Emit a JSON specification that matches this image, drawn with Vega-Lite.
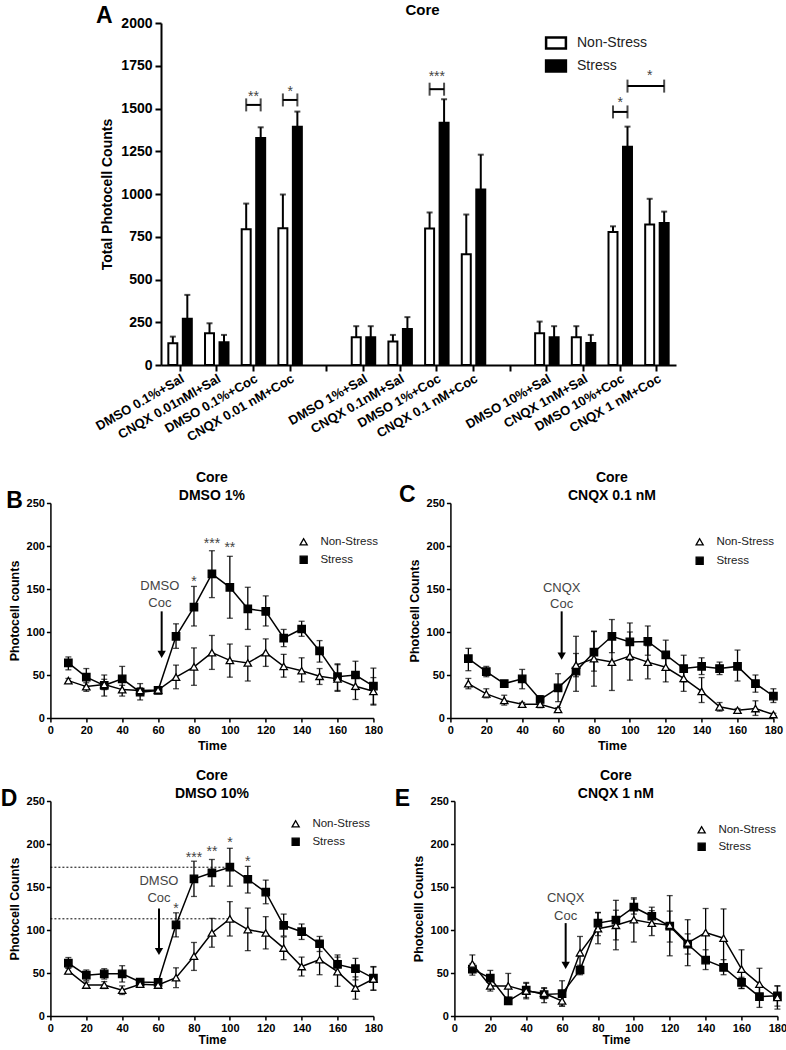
{
"$schema": "https://vega.github.io/schema/vega-lite/v6.json",
"padding": {"left": 0, "top": 3, "right": 0, "bottom": 0},
"config": {
  "font": "Liberation Sans",
  "view": {"stroke": null},
  "axis": {"domainColor": "black", "tickColor": "black", "labelColor": "black", "titleColor": "black", "labelFontWeight": "bold", "titleFontWeight": "bold", "grid": false, "domainWidth": 1.5, "tickWidth": 1.5, "labelFont": "Liberation Sans", "titleFont": "Liberation Sans", "format": "d", "labelOverlap": false},
  "title": {"font": "Liberation Sans", "fontWeight": "bold", "color": "black", "anchor": "middle", "frame": "group"},
  "legend": {"labelFont": "Liberation Sans", "labelColor": "#222222"},
  "text": {"font": "Liberation Sans"}
},
"datasets": {
  "bars": [
    {"group": "DMSO 0.1%+Sal", "series": "Non-Stress", "value": 127, "hi": 166},
    {"group": "DMSO 0.1%+Sal", "series": "Stress", "value": 270, "hi": 410},
    {"group": "CNQX 0.01nMl+Sal", "series": "Non-Stress", "value": 186, "hi": 244},
    {"group": "CNQX 0.01nMl+Sal", "series": "Stress", "value": 133, "hi": 176},
    {"group": "DMSO 0.1%+Coc", "series": "Non-Stress", "value": 794, "hi": 944},
    {"group": "DMSO 0.1%+Coc", "series": "Stress", "value": 1327, "hi": 1390},
    {"group": "CNQX 0.01 nM+Coc", "series": "Non-Stress", "value": 800, "hi": 997},
    {"group": "CNQX 0.01 nM+Coc", "series": "Stress", "value": 1394, "hi": 1482},
    {"group": "DMSO 1%+Sal", "series": "Non-Stress", "value": 162, "hi": 227},
    {"group": "DMSO 1%+Sal", "series": "Stress", "value": 162, "hi": 227},
    {"group": "CNQX 0.1nM+Sal", "series": "Non-Stress", "value": 137, "hi": 176},
    {"group": "CNQX 0.1nM+Sal", "series": "Stress", "value": 211, "hi": 280},
    {"group": "DMSO 1%+Coc", "series": "Non-Stress", "value": 798, "hi": 892},
    {"group": "DMSO 1%+Coc", "series": "Stress", "value": 1417, "hi": 1554},
    {"group": "CNQX 0.1 nM+Coc", "series": "Non-Stress", "value": 647, "hi": 880},
    {"group": "CNQX 0.1 nM+Coc", "series": "Stress", "value": 1026, "hi": 1230},
    {"group": "DMSO 10%+Sal", "series": "Non-Stress", "value": 186, "hi": 254},
    {"group": "DMSO 10%+Sal", "series": "Stress", "value": 162, "hi": 227},
    {"group": "CNQX 1nM+Sal", "series": "Non-Stress", "value": 162, "hi": 227},
    {"group": "CNQX 1nM+Sal", "series": "Stress", "value": 129, "hi": 176},
    {"group": "DMSO 10%+Coc", "series": "Non-Stress", "value": 778, "hi": 811},
    {"group": "DMSO 10%+Coc", "series": "Stress", "value": 1277, "hi": 1394},
    {"group": "CNQX 1 nM+Coc", "series": "Non-Stress", "value": 821, "hi": 972},
    {"group": "CNQX 1 nM+Coc", "series": "Stress", "value": 831, "hi": 897}
  ],
  "brackets": [
    {"bid": 1, "group": "DMSO 0.1%+Coc", "series": "Non-Stress", "level": 1521},
    {"bid": 1, "group": "DMSO 0.1%+Coc", "series": "Stress", "level": 1521},
    {"bid": 2, "group": "CNQX 0.01 nM+Coc", "series": "Non-Stress", "level": 1550},
    {"bid": 2, "group": "CNQX 0.01 nM+Coc", "series": "Stress", "level": 1550},
    {"bid": 3, "group": "DMSO 1%+Coc", "series": "Non-Stress", "level": 1613},
    {"bid": 3, "group": "DMSO 1%+Coc", "series": "Stress", "level": 1613},
    {"bid": 4, "group": "DMSO 10%+Coc", "series": "Non-Stress", "level": 1480},
    {"bid": 4, "group": "DMSO 10%+Coc", "series": "Stress", "level": 1480},
    {"bid": 5, "group": "DMSO 10%+Coc", "series": "Stress", "level": 1631},
    {"bid": 5, "group": "CNQX 1 nM+Coc", "series": "Stress", "level": 1631}
  ],
  "stars": [
    {"group": "DMSO 0.1%+Coc", "level": 1546, "label": "**"},
    {"group": "CNQX 0.01 nM+Coc", "level": 1575, "label": "*"},
    {"group": "DMSO 1%+Coc", "level": 1658, "label": "***"},
    {"group": "DMSO 10%+Coc", "level": 1506, "label": "*"},
    {"group": "CNQX 1 nM+Coc", "series": "Non-Stress", "level": 1668, "label": "*"}
  ],
  "letterA": [{"label": "A", "x": -0.11, "y": 2000}],
  "notes": [
    {"panel": "B", "kind": "drug", "time": 61, "y": 149, "label": "DMSO"},
    {"panel": "B", "kind": "drug", "time": 61, "y": 129, "label": "Coc"},
    {"panel": "B", "kind": "star", "time": 80, "y": 154, "label": "*"},
    {"panel": "B", "kind": "star", "time": 90, "y": 198, "label": "***"},
    {"panel": "B", "kind": "star", "time": 100, "y": 193, "label": "**"},
    {"panel": "B", "kind": "letter", "time": -20, "y": 244, "label": "B"},
    {"panel": "C", "kind": "drug", "time": 62, "y": 147, "label": "CNQX"},
    {"panel": "C", "kind": "drug", "time": 62, "y": 128, "label": "Coc"},
    {"panel": "C", "kind": "letter", "time": -24, "y": 251, "label": "C"},
    {"panel": "D", "kind": "drug", "time": 60.5, "y": 152, "label": "DMSO"},
    {"panel": "D", "kind": "drug", "time": 60.5, "y": 133, "label": "Coc"},
    {"panel": "D", "kind": "star", "time": 70, "y": 120, "label": "*"},
    {"panel": "D", "kind": "star", "time": 80, "y": 179, "label": "***"},
    {"panel": "D", "kind": "star", "time": 90, "y": 186, "label": "**"},
    {"panel": "D", "kind": "star", "time": 100, "y": 196, "label": "*"},
    {"panel": "D", "kind": "star", "time": 110, "y": 175, "label": "*"},
    {"panel": "D", "kind": "letter", "time": -23, "y": 244, "label": "D"},
    {"panel": "E", "kind": "drug", "time": 62, "y": 132, "label": "CNQX"},
    {"panel": "E", "kind": "drug", "time": 62, "y": 112, "label": "Coc"},
    {"panel": "E", "kind": "letter", "time": -29, "y": 244, "label": "E"}
  ],
  "arrows": [
    {"panel": "B", "time": 62, "top": 124, "tip": 74},
    {"panel": "C", "time": 62, "top": 124, "tip": 72},
    {"panel": "D", "time": 60.5, "top": 125, "tip": 75},
    {"panel": "E", "time": 62, "top": 108, "tip": 59}
  ],
  "dotted": [
    {"panel": "D", "t0": 0, "t1": 100, "y": 173},
    {"panel": "D", "t0": 0, "t1": 100, "y": 113}
  ],
  "ts": [
    {"panel":"B","series":"Stress","time":10,"value":64,"lo":56,"hi":71},
    {"panel":"B","series":"Stress","time":20,"value":47.5,"lo":37,"hi":57.5},
    {"panel":"B","series":"Stress","time":30,"value":38,"lo":25.5,"hi":50},
    {"panel":"B","series":"Stress","time":40,"value":45.5,"lo":32,"hi":60},
    {"panel":"B","series":"Stress","time":50,"value":30,"lo":21,"hi":40},
    {"panel":"B","series":"Stress","time":60,"value":32,"lo":29.5,"hi":34.5},
    {"panel":"B","series":"Stress","time":70,"value":95,"lo":81,"hi":109.5},
    {"panel":"B","series":"Stress","time":80,"value":129,"lo":107,"hi":153},
    {"panel":"B","series":"Stress","time":90,"value":167.5,"lo":140,"hi":194.5},
    {"panel":"B","series":"Stress","time":100,"value":152,"lo":116,"hi":188},
    {"panel":"B","series":"Stress","time":110,"value":127,"lo":103,"hi":152},
    {"panel":"B","series":"Stress","time":120,"value":124,"lo":107,"hi":142},
    {"panel":"B","series":"Stress","time":130,"value":93,"lo":83,"hi":103},
    {"panel":"B","series":"Stress","time":140,"value":103.5,"lo":95,"hi":112.5},
    {"panel":"B","series":"Stress","time":150,"value":78,"lo":65,"hi":90},
    {"panel":"B","series":"Stress","time":160,"value":48,"lo":32,"hi":63},
    {"panel":"B","series":"Stress","time":170,"value":50,"lo":33,"hi":66},
    {"panel":"B","series":"Stress","time":180,"value":37,"lo":15,"hi":58},
    {"panel":"B","series":"Non-Stress","time":10,"value":43.5,"lo":41,"hi":46},
    {"panel":"B","series":"Non-Stress","time":20,"value":36.5,"lo":31,"hi":41},
    {"panel":"B","series":"Non-Stress","time":30,"value":39,"lo":33,"hi":45},
    {"panel":"B","series":"Non-Stress","time":40,"value":33,"lo":25.5,"hi":38},
    {"panel":"B","series":"Non-Stress","time":50,"value":32,"lo":29,"hi":35},
    {"panel":"B","series":"Non-Stress","time":60,"value":32.5,"lo":30,"hi":35},
    {"panel":"B","series":"Non-Stress","time":70,"value":47.5,"lo":34,"hi":61.5},
    {"panel":"B","series":"Non-Stress","time":80,"value":59.5,"lo":38,"hi":81.5},
    {"panel":"B","series":"Non-Stress","time":90,"value":76,"lo":56.5,"hi":96},
    {"panel":"B","series":"Non-Stress","time":100,"value":67,"lo":47.5,"hi":86},
    {"panel":"B","series":"Non-Stress","time":110,"value":64,"lo":43,"hi":83.5},
    {"panel":"B","series":"Non-Stress","time":120,"value":76,"lo":60,"hi":92},
    {"panel":"B","series":"Non-Stress","time":130,"value":60,"lo":47.5,"hi":74},
    {"panel":"B","series":"Non-Stress","time":140,"value":55,"lo":42,"hi":70},
    {"panel":"B","series":"Non-Stress","time":150,"value":48.5,"lo":39,"hi":57.5},
    {"panel":"B","series":"Non-Stress","time":160,"value":45.5,"lo":31,"hi":62},
    {"panel":"B","series":"Non-Stress","time":170,"value":37,"lo":21.5,"hi":52},
    {"panel":"B","series":"Non-Stress","time":180,"value":31,"lo":16,"hi":47},
    {"panel":"C","series":"Stress","time":10,"value":69,"lo":55,"hi":81},
    {"panel":"C","series":"Stress","time":20,"value":54,"lo":48,"hi":60},
    {"panel":"C","series":"Stress","time":30,"value":40,"lo":37,"hi":43},
    {"panel":"C","series":"Stress","time":40,"value":45.5,"lo":34,"hi":56.5},
    {"panel":"C","series":"Stress","time":50,"value":21.5,"lo":16,"hi":26},
    {"panel":"C","series":"Stress","time":60,"value":35,"lo":19,"hi":51.5},
    {"panel":"C","series":"Stress","time":70,"value":54.5,"lo":31,"hi":95},
    {"panel":"C","series":"Stress","time":80,"value":76.5,"lo":54.5,"hi":100.5},
    {"panel":"C","series":"Stress","time":90,"value":95,"lo":76,"hi":114.5},
    {"panel":"C","series":"Stress","time":100,"value":88.5,"lo":67,"hi":110.5},
    {"panel":"C","series":"Stress","time":110,"value":89,"lo":73,"hi":107},
    {"panel":"C","series":"Stress","time":120,"value":73.5,"lo":57,"hi":90.5},
    {"panel":"C","series":"Stress","time":130,"value":57.5,"lo":42,"hi":73},
    {"panel":"C","series":"Stress","time":140,"value":60,"lo":50.5,"hi":70},
    {"panel":"C","series":"Stress","time":150,"value":57.5,"lo":50.5,"hi":65},
    {"panel":"C","series":"Stress","time":160,"value":60,"lo":43,"hi":79},
    {"panel":"C","series":"Stress","time":170,"value":40,"lo":30,"hi":50},
    {"panel":"C","series":"Stress","time":180,"value":25.5,"lo":18,"hi":34},
    {"panel":"C","series":"Non-Stress","time":10,"value":40,"lo":34,"hi":46},
    {"panel":"C","series":"Non-Stress","time":20,"value":28,"lo":23.5,"hi":34},
    {"panel":"C","series":"Non-Stress","time":30,"value":20.5,"lo":15,"hi":26.5},
    {"panel":"C","series":"Non-Stress","time":40,"value":16,"lo":14,"hi":18},
    {"panel":"C","series":"Non-Stress","time":50,"value":16,"lo":12,"hi":19},
    {"panel":"C","series":"Non-Stress","time":60,"value":10,"lo":8,"hi":12},
    {"panel":"C","series":"Non-Stress","time":70,"value":61.5,"lo":48,"hi":75},
    {"panel":"C","series":"Non-Stress","time":80,"value":69,"lo":37,"hi":101},
    {"panel":"C","series":"Non-Stress","time":90,"value":65,"lo":32,"hi":97},
    {"panel":"C","series":"Non-Stress","time":100,"value":72,"lo":44,"hi":100},
    {"panel":"C","series":"Non-Stress","time":110,"value":65,"lo":45.5,"hi":84},
    {"panel":"C","series":"Non-Stress","time":120,"value":59,"lo":42,"hi":76},
    {"panel":"C","series":"Non-Stress","time":130,"value":46,"lo":31,"hi":61},
    {"panel":"C","series":"Non-Stress","time":140,"value":31,"lo":18,"hi":47},
    {"panel":"C","series":"Non-Stress","time":150,"value":13,"lo":8,"hi":18},
    {"panel":"C","series":"Non-Stress","time":160,"value":9,"lo":7,"hi":11},
    {"panel":"C","series":"Non-Stress","time":170,"value":11,"lo":3,"hi":20},
    {"panel":"C","series":"Non-Stress","time":180,"value":4,"lo":2.5,"hi":5.5},
    {"panel":"D","series":"Stress","time":10,"value":61.5,"lo":55.5,"hi":68},
    {"panel":"D","series":"Stress","time":20,"value":47.5,"lo":41.5,"hi":53.5},
    {"panel":"D","series":"Stress","time":30,"value":49,"lo":43,"hi":55},
    {"panel":"D","series":"Stress","time":40,"value":49,"lo":39.5,"hi":58.5},
    {"panel":"D","series":"Stress","time":50,"value":39.5,"lo":36.5,"hi":42.5},
    {"panel":"D","series":"Stress","time":60,"value":39,"lo":36,"hi":42},
    {"panel":"D","series":"Stress","time":70,"value":106,"lo":92,"hi":120},
    {"panel":"D","series":"Stress","time":80,"value":159.5,"lo":139,"hi":180},
    {"panel":"D","series":"Stress","time":90,"value":166.5,"lo":151,"hi":182},
    {"panel":"D","series":"Stress","time":100,"value":173,"lo":151,"hi":195},
    {"panel":"D","series":"Stress","time":110,"value":159,"lo":143,"hi":174},
    {"panel":"D","series":"Stress","time":120,"value":144,"lo":130.5,"hi":158},
    {"panel":"D","series":"Stress","time":130,"value":105.5,"lo":93,"hi":118.5},
    {"panel":"D","series":"Stress","time":140,"value":98,"lo":89,"hi":107},
    {"panel":"D","series":"Stress","time":150,"value":84,"lo":75,"hi":92.5},
    {"panel":"D","series":"Stress","time":160,"value":60,"lo":49,"hi":71},
    {"panel":"D","series":"Stress","time":170,"value":55,"lo":42,"hi":67},
    {"panel":"D","series":"Stress","time":180,"value":44,"lo":30,"hi":57.5},
    {"panel":"D","series":"Non-Stress","time":10,"value":52.5,"lo":49,"hi":56},
    {"panel":"D","series":"Non-Stress","time":20,"value":36,"lo":32.5,"hi":39.5},
    {"panel":"D","series":"Non-Stress","time":30,"value":36,"lo":32,"hi":40},
    {"panel":"D","series":"Non-Stress","time":40,"value":30,"lo":25,"hi":35},
    {"panel":"D","series":"Non-Stress","time":50,"value":37,"lo":34.5,"hi":39.5},
    {"panel":"D","series":"Non-Stress","time":60,"value":36,"lo":33.5,"hi":38.5},
    {"panel":"D","series":"Non-Stress","time":70,"value":44.5,"lo":33,"hi":56},
    {"panel":"D","series":"Non-Stress","time":80,"value":69.5,"lo":53,"hi":85.5},
    {"panel":"D","series":"Non-Stress","time":90,"value":96.5,"lo":80,"hi":113.5},
    {"panel":"D","series":"Non-Stress","time":100,"value":113,"lo":93,"hi":133},
    {"panel":"D","series":"Non-Stress","time":110,"value":100.5,"lo":76,"hi":125.5},
    {"panel":"D","series":"Non-Stress","time":120,"value":96.5,"lo":78,"hi":115.5},
    {"panel":"D","series":"Non-Stress","time":130,"value":79,"lo":65.5,"hi":92},
    {"panel":"D","series":"Non-Stress","time":140,"value":57.5,"lo":46.5,"hi":68.5},
    {"panel":"D","series":"Non-Stress","time":150,"value":65.5,"lo":48,"hi":83.5},
    {"panel":"D","series":"Non-Stress","time":160,"value":51.5,"lo":34.5,"hi":68.5},
    {"panel":"D","series":"Non-Stress","time":170,"value":32.5,"lo":19.5,"hi":45.5},
    {"panel":"D","series":"Non-Stress","time":180,"value":43,"lo":30,"hi":57},
    {"panel":"E","series":"Stress","time":10,"value":54.5,"lo":47.5,"hi":61},
    {"panel":"E","series":"Stress","time":20,"value":44,"lo":35,"hi":53},
    {"panel":"E","series":"Stress","time":30,"value":17.5,"lo":13.5,"hi":21.5},
    {"panel":"E","series":"Stress","time":40,"value":30,"lo":21.5,"hi":38},
    {"panel":"E","series":"Stress","time":50,"value":25,"lo":15.5,"hi":33},
    {"panel":"E","series":"Stress","time":60,"value":26,"lo":11.5,"hi":41},
    {"panel":"E","series":"Stress","time":70,"value":53.5,"lo":48,"hi":59},
    {"panel":"E","series":"Stress","time":80,"value":108,"lo":93.5,"hi":120.5},
    {"panel":"E","series":"Stress","time":90,"value":111.5,"lo":88.5,"hi":134.5},
    {"panel":"E","series":"Stress","time":100,"value":126.5,"lo":118.5,"hi":136},
    {"panel":"E","series":"Stress","time":110,"value":116,"lo":106,"hi":126.5},
    {"panel":"E","series":"Stress","time":120,"value":104.5,"lo":86,"hi":122},
    {"panel":"E","series":"Stress","time":130,"value":83.5,"lo":72,"hi":95.5},
    {"panel":"E","series":"Stress","time":140,"value":65,"lo":54,"hi":77},
    {"panel":"E","series":"Stress","time":150,"value":56.5,"lo":48,"hi":65.5},
    {"panel":"E","series":"Stress","time":160,"value":39,"lo":32,"hi":45},
    {"panel":"E","series":"Stress","time":170,"value":22.5,"lo":10,"hi":34},
    {"panel":"E","series":"Stress","time":180,"value":23.5,"lo":11.5,"hi":35},
    {"panel":"E","series":"Non-Stress","time":10,"value":60.5,"lo":50.5,"hi":71},
    {"panel":"E","series":"Non-Stress","time":20,"value":35,"lo":29,"hi":41},
    {"panel":"E","series":"Non-Stress","time":30,"value":35,"lo":21.5,"hi":49.5},
    {"panel":"E","series":"Non-Stress","time":40,"value":29,"lo":20,"hi":39},
    {"panel":"E","series":"Non-Stress","time":50,"value":26.5,"lo":20,"hi":32},
    {"panel":"E","series":"Non-Stress","time":60,"value":17.5,"lo":11.5,"hi":23},
    {"panel":"E","series":"Non-Stress","time":70,"value":73.5,"lo":54.5,"hi":92.5},
    {"panel":"E","series":"Non-Stress","time":80,"value":101.5,"lo":84,"hi":120},
    {"panel":"E","series":"Non-Stress","time":90,"value":105.5,"lo":77,"hi":123},
    {"panel":"E","series":"Non-Stress","time":100,"value":112,"lo":86,"hi":137.5},
    {"panel":"E","series":"Non-Stress","time":110,"value":108,"lo":93.5,"hi":122.5},
    {"panel":"E","series":"Non-Stress","time":120,"value":105.5,"lo":70,"hi":140},
    {"panel":"E","series":"Non-Stress","time":130,"value":85,"lo":58.5,"hi":112},
    {"panel":"E","series":"Non-Stress","time":140,"value":97,"lo":69,"hi":125},
    {"panel":"E","series":"Non-Stress","time":150,"value":90.5,"lo":56.5,"hi":124.5},
    {"panel":"E","series":"Non-Stress","time":160,"value":54.5,"lo":32,"hi":77},
    {"panel":"E","series":"Non-Stress","time":170,"value":37,"lo":18.5,"hi":55.5},
    {"panel":"E","series":"Non-Stress","time":180,"value":21.5,"lo":8,"hi":35}
  ]
},
"spacing": 27,
"center": true,
"resolve": {"scale": {"fill": "independent", "shape": "independent"}},
"vconcat": [
  {
    "width": 515, "height": 342,
    "title": {"text": "Core", "fontSize": 15, "dx": 4, "offset": -13},
    "resolve": {"scale": {"x": "independent"}},
    "layer": [
      {"layer": [
        {"data": {"name": "bars"},
         "mark": {"type": "bar", "stroke": "black", "strokeWidth": 2},
         "encoding": {
           "x": {"field": "group", "type": "nominal", "sort": null,
                 "scale": {"domain": ["DMSO 0.1%+Sal", "CNQX 0.01nMl+Sal", "DMSO 0.1%+Coc", "CNQX 0.01 nM+Coc", "gap1", "DMSO 1%+Sal", "CNQX 0.1nM+Sal", "DMSO 1%+Coc", "CNQX 0.1 nM+Coc", "gap2", "DMSO 10%+Sal", "CNQX 1nM+Sal", "DMSO 10%+Coc", "CNQX 1 nM+Coc"], "paddingInner": 0.36, "paddingOuter": 0.2},
                 "axis": {"title": null, "labelAngle": -30, "labelAlign": "right", "labelBaseline": "top", "labelFontSize": 13, "tickSize": 6, "tickWidth": 2, "domainWidth": 2, "labelPadding": 1, "labelOverlap": false, "labelExpr": "indexof(datum.value, 'gap') === 0 ? '' : datum.value"}},
           "xOffset": {"field": "series", "type": "nominal", "scale": {"domain": ["Non-Stress", "Stress"], "paddingInner": 0.38, "paddingOuter": 0}},
           "y": {"field": "value", "type": "quantitative", "scale": {"domain": [0, 2000], "nice": false},
                 "axis": {"title": "Total Photocell Counts", "values": [0, 250, 500, 750, 1000, 1250, 1500, 1750, 2000], "format": "d", "labelFontSize": 14, "titleFontSize": 14, "tickSize": 6, "tickWidth": 2, "domainWidth": 2, "labelPadding": 3, "titlePadding": 6}},
           "fill": {"field": "series", "type": "nominal", "scale": {"domain": ["Non-Stress", "Stress"], "range": ["white", "black"]},
                    "legend": {"orient": "none", "legendX": 388, "legendY": 13, "title": null, "padding": 0, "labelFontSize": 14, "symbolType": "M-1.8,-1H1.8V1H-1.8Z", "symbolSize": 121, "symbolStrokeColor": "black", "symbolStrokeWidth": 2.5, "labelOffset": 14, "rowPadding": 1}}
         }},
        {"data": {"name": "bars"},
         "mark": {"type": "rule", "color": "black", "strokeWidth": 2},
         "encoding": {
           "x": {"field": "group", "type": "nominal", "sort": null},
           "xOffset": {"field": "series", "type": "nominal"},
           "y": {"field": "value", "type": "quantitative"},
           "y2": {"field": "hi"}
         }},
        {"data": {"name": "bars"},
         "mark": {"type": "tick", "color": "black", "thickness": 2, "size": 6},
         "encoding": {
           "x": {"field": "group", "type": "nominal", "sort": null},
           "xOffset": {"field": "series", "type": "nominal"},
           "y": {"field": "hi", "type": "quantitative"}
         }},
        {"data": {"name": "brackets"},
         "mark": {"type": "line", "color": "black", "strokeWidth": 2},
         "encoding": {
           "x": {"field": "group", "type": "nominal", "sort": null},
           "xOffset": {"field": "series", "type": "nominal"},
           "y": {"field": "level", "type": "quantitative"},
           "detail": {"field": "bid"}
         }},
        {"data": {"name": "brackets"},
         "mark": {"type": "tick", "orient": "vertical", "color": "black", "thickness": 2, "size": 13},
         "encoding": {
           "x": {"field": "group", "type": "nominal", "sort": null},
           "xOffset": {"field": "series", "type": "nominal"},
           "y": {"field": "level", "type": "quantitative"}
         }},
        {"data": {"name": "stars"},
         "transform": [{"filter": "!isValid(datum.series)"}],
         "mark": {"type": "text", "fontSize": 14, "color": "#444444", "align": "center", "baseline": "alphabetic"},
         "encoding": {
           "x": {"field": "group", "type": "nominal", "sort": null},
           "y": {"field": "level", "type": "quantitative"},
           "text": {"field": "label"}
         }},
        {"data": {"name": "stars"},
         "transform": [{"filter": "isValid(datum.series)"}],
         "mark": {"type": "text", "fontSize": 14, "color": "#444444", "align": "center", "baseline": "alphabetic"},
         "encoding": {
           "x": {"field": "group", "type": "nominal", "sort": null},
           "xOffset": {"field": "series", "type": "nominal"},
           "y": {"field": "level", "type": "quantitative"},
           "text": {"field": "label"}
         }}
      ]},
      {"data": {"name": "letterA"},
       "mark": {"type": "text", "fontSize": 23, "fontWeight": "bold", "align": "center", "baseline": "alphabetic", "color": "black"},
       "encoding": {
         "x": {"field": "x", "type": "quantitative", "scale": {"domain": [0, 1]}, "axis": null},
         "y": {"field": "y", "type": "quantitative"},
         "text": {"field": "label"}
       }}
    ]
  },
  {
    "spacing": 17,
    "resolve": {"scale": {"fill": "independent", "shape": "independent"}},
    "vconcat": [
      {"spacing": 15, "resolve": {"scale": {"fill": "independent", "shape": "independent"}}, "hconcat": [
        {"width": 323, "height": 215,
         "title": {"text": ["Core", "DMSO 1%"], "fontSize": 14, "lineHeight": 18, "baseline": "bottom", "offset": -27},
         "resolve": {"axis": {"x": "independent", "y": "independent"}},
         "layer": [
          {"data": {"name": "ts"}, "transform": [{"filter": "datum.panel === 'B'"}],
           "mark": {"type": "rule", "color": "black", "strokeWidth": 1.3},
           "encoding": {"x": {"field": "time", "type": "quantitative", "scale": {"domain": [0, 180], "nice": false},
                              "axis": {"values": [0, 20, 40, 60, 80, 100, 120, 140, 160, 180], "title": "Time", "labelFontSize": 11, "titleFontSize": 12.5, "tickSize": 4, "labelPadding": 2, "titlePadding": 4, "labelFlush": false, "labelOverlap": false}},
                        "y": {"field": "lo", "type": "quantitative", "scale": {"domain": [0, 250], "nice": false},
                              "axis": {"values": [0, 50, 100, 150, 200, 250], "title": "Photocell counts", "labelFontSize": 11, "titleFontSize": 12.5, "tickSize": 4, "labelPadding": 2, "titlePadding": 5, "labelOverlap": false}},
                        "y2": {"field": "hi"}}},
          {"data": {"name": "ts"}, "transform": [{"filter": "datum.panel === 'B'"}],
           "mark": {"type": "tick", "orient": "horizontal", "color": "black", "thickness": 1.3, "size": 6},
           "encoding": {"x": {"field": "time", "type": "quantitative", "axis": null}, "y": {"field": "lo", "type": "quantitative", "axis": null}}},
          {"data": {"name": "ts"}, "transform": [{"filter": "datum.panel === 'B'"}],
           "mark": {"type": "tick", "orient": "horizontal", "color": "black", "thickness": 1.3, "size": 6},
           "encoding": {"x": {"field": "time", "type": "quantitative", "axis": null}, "y": {"field": "hi", "type": "quantitative", "axis": null}}},
          {"data": {"name": "ts"}, "transform": [{"filter": "datum.panel === 'B'"}],
           "mark": {"type": "line", "color": "black", "strokeWidth": 1.5},
           "encoding": {"x": {"field": "time", "type": "quantitative", "axis": null},
                        "y": {"field": "value", "type": "quantitative", "axis": null},
                        "detail": {"field": "series"}}},
          {"data": {"name": "ts"}, "transform": [{"filter": "datum.panel === 'B'"}],
           "mark": {"type": "point", "filled": true, "size": 55, "stroke": "black", "strokeWidth": 1.3, "opacity": 1},
           "encoding": {"x": {"field": "time", "type": "quantitative", "axis": null},
                        "y": {"field": "value", "type": "quantitative", "axis": null},
                        "shape": {"field": "series", "type": "nominal", "scale": {"domain": ["Non-Stress", "Stress"], "range": ["triangle-up", "square"]}},
                        "fill": {"field": "series", "type": "nominal", "scale": {"domain": ["Non-Stress", "Stress"], "range": ["white", "black"]},
                                 "legend": {"orient": "none", "legendX": 247.5, "legendY": 33, "title": null, "padding": 0, "labelFontSize": 11.5, "symbolSize": 50, "symbolStrokeColor": "black", "symbolStrokeWidth": 1.3, "labelOffset": 11, "rowPadding": 5}}}},
          {"data": {"name": "notes"}, "transform": [{"filter": "datum.panel === 'B' && datum.kind === 'drug'"}],
           "mark": {"type": "text", "fontSize": 13, "color": "#444444", "align": "center", "baseline": "alphabetic"},
           "encoding": {"x": {"field": "time", "type": "quantitative", "axis": null}, "y": {"field": "y", "type": "quantitative", "axis": null}, "text": {"field": "label"}}},
          {"data": {"name": "notes"}, "transform": [{"filter": "datum.panel === 'B' && datum.kind === 'star'"}],
           "mark": {"type": "text", "fontSize": 14, "color": "#444444", "align": "center", "baseline": "alphabetic"},
           "encoding": {"x": {"field": "time", "type": "quantitative", "axis": null}, "y": {"field": "y", "type": "quantitative", "axis": null}, "text": {"field": "label"}}},
          {"data": {"name": "notes"}, "transform": [{"filter": "datum.panel === 'B' && datum.kind === 'letter'"}],
           "mark": {"type": "text", "fontSize": 23, "fontWeight": "bold", "color": "black", "align": "center", "baseline": "alphabetic"},
           "encoding": {"x": {"field": "time", "type": "quantitative", "axis": null}, "y": {"field": "y", "type": "quantitative", "axis": null}, "text": {"field": "label"}}},
          {"data": {"name": "arrows"}, "transform": [{"filter": "datum.panel === 'B'"}],
           "mark": {"type": "rule", "color": "black", "strokeWidth": 2},
           "encoding": {"x": {"field": "time", "type": "quantitative", "axis": null}, "y": {"field": "top", "type": "quantitative", "axis": null}, "y2": {"field": "tip"}}},
          {"data": {"name": "arrows"}, "transform": [{"filter": "datum.panel === 'B'"}],
           "mark": {"type": "point", "shape": "triangle-down", "filled": true, "color": "black", "size": 70, "opacity": 1},
           "encoding": {"x": {"field": "time", "type": "quantitative", "axis": null}, "y": {"field": "tip", "type": "quantitative", "axis": null}}}
         ]},
        {"width": 323, "height": 215,
         "title": {"text": ["Core", "CNQX 0.1 nM"], "fontSize": 14, "lineHeight": 18, "baseline": "bottom", "offset": -33},
         "resolve": {"axis": {"x": "independent", "y": "independent"}},
         "layer": [
          {"data": {"name": "ts"}, "transform": [{"filter": "datum.panel === 'C'"}],
           "mark": {"type": "rule", "color": "black", "strokeWidth": 1.3},
           "encoding": {"x": {"field": "time", "type": "quantitative", "scale": {"domain": [0, 180], "nice": false},
                              "axis": {"values": [0, 20, 40, 60, 80, 100, 120, 140, 160, 180], "title": "Time", "labelFontSize": 11, "titleFontSize": 12.5, "tickSize": 4, "labelPadding": 2, "titlePadding": 4, "labelFlush": false, "labelOverlap": false}},
                        "y": {"field": "lo", "type": "quantitative", "scale": {"domain": [0, 250], "nice": false},
                              "axis": {"values": [0, 50, 100, 150, 200, 250], "title": "Photocell Counts", "labelFontSize": 11, "titleFontSize": 12.5, "tickSize": 4, "labelPadding": 2, "titlePadding": 5, "labelOverlap": false}},
                        "y2": {"field": "hi"}}},
          {"data": {"name": "ts"}, "transform": [{"filter": "datum.panel === 'C'"}],
           "mark": {"type": "tick", "orient": "horizontal", "color": "black", "thickness": 1.3, "size": 6},
           "encoding": {"x": {"field": "time", "type": "quantitative", "axis": null}, "y": {"field": "lo", "type": "quantitative", "axis": null}}},
          {"data": {"name": "ts"}, "transform": [{"filter": "datum.panel === 'C'"}],
           "mark": {"type": "tick", "orient": "horizontal", "color": "black", "thickness": 1.3, "size": 6},
           "encoding": {"x": {"field": "time", "type": "quantitative", "axis": null}, "y": {"field": "hi", "type": "quantitative", "axis": null}}},
          {"data": {"name": "ts"}, "transform": [{"filter": "datum.panel === 'C'"}],
           "mark": {"type": "line", "color": "black", "strokeWidth": 1.5},
           "encoding": {"x": {"field": "time", "type": "quantitative", "axis": null},
                        "y": {"field": "value", "type": "quantitative", "axis": null},
                        "detail": {"field": "series"}}},
          {"data": {"name": "ts"}, "transform": [{"filter": "datum.panel === 'C'"}],
           "mark": {"type": "point", "filled": true, "size": 55, "stroke": "black", "strokeWidth": 1.3, "opacity": 1},
           "encoding": {"x": {"field": "time", "type": "quantitative", "axis": null},
                        "y": {"field": "value", "type": "quantitative", "axis": null},
                        "shape": {"field": "series", "type": "nominal", "scale": {"domain": ["Non-Stress", "Stress"], "range": ["triangle-up", "square"]}},
                        "fill": {"field": "series", "type": "nominal", "scale": {"domain": ["Non-Stress", "Stress"], "range": ["white", "black"]},
                                 "legend": {"orient": "none", "legendX": 243.5, "legendY": 33, "title": null, "padding": 0, "labelFontSize": 11.5, "symbolSize": 50, "symbolStrokeColor": "black", "symbolStrokeWidth": 1.3, "labelOffset": 11, "rowPadding": 6}}}},
          {"data": {"name": "notes"}, "transform": [{"filter": "datum.panel === 'C' && datum.kind === 'drug'"}],
           "mark": {"type": "text", "fontSize": 13, "color": "#444444", "align": "center", "baseline": "alphabetic"},
           "encoding": {"x": {"field": "time", "type": "quantitative", "axis": null}, "y": {"field": "y", "type": "quantitative", "axis": null}, "text": {"field": "label"}}},
          {"data": {"name": "notes"}, "transform": [{"filter": "datum.panel === 'C' && datum.kind === 'letter'"}],
           "mark": {"type": "text", "fontSize": 23, "fontWeight": "bold", "color": "black", "align": "center", "baseline": "alphabetic"},
           "encoding": {"x": {"field": "time", "type": "quantitative", "axis": null}, "y": {"field": "y", "type": "quantitative", "axis": null}, "text": {"field": "label"}}},
          {"data": {"name": "arrows"}, "transform": [{"filter": "datum.panel === 'C'"}],
           "mark": {"type": "rule", "color": "black", "strokeWidth": 2},
           "encoding": {"x": {"field": "time", "type": "quantitative", "axis": null}, "y": {"field": "top", "type": "quantitative", "axis": null}, "y2": {"field": "tip"}}},
          {"data": {"name": "arrows"}, "transform": [{"filter": "datum.panel === 'C'"}],
           "mark": {"type": "point", "shape": "triangle-down", "filled": true, "color": "black", "size": 70, "opacity": 1},
           "encoding": {"x": {"field": "time", "type": "quantitative", "axis": null}, "y": {"field": "tip", "type": "quantitative", "axis": null}}}
         ]}
      ]},
      {"spacing": 11, "resolve": {"scale": {"fill": "independent", "shape": "independent"}}, "hconcat": [
        {"width": 323, "height": 215,
         "title": {"text": ["Core", "DMSO 10%"], "fontSize": 14, "lineHeight": 18, "baseline": "bottom", "offset": -27},
         "resolve": {"axis": {"x": "independent", "y": "independent"}},
         "layer": [
          {"data": {"name": "ts"}, "transform": [{"filter": "datum.panel === 'D'"}],
           "mark": {"type": "rule", "color": "black", "strokeWidth": 1.3},
           "encoding": {"x": {"field": "time", "type": "quantitative", "scale": {"domain": [0, 180], "nice": false},
                              "axis": {"values": [0, 20, 40, 60, 80, 100, 120, 140, 160, 180], "title": "Time", "labelFontSize": 11, "titleFontSize": 12, "tickSize": 4, "labelPadding": 2, "titlePadding": 1, "labelFlush": false, "labelOverlap": false}},
                        "y": {"field": "lo", "type": "quantitative", "scale": {"domain": [0, 250], "nice": false},
                              "axis": {"values": [0, 50, 100, 150, 200, 250], "title": "Photocell Counts", "labelFontSize": 11, "titleFontSize": 12.5, "tickSize": 4, "labelPadding": 2, "titlePadding": 5, "labelOverlap": false}},
                        "y2": {"field": "hi"}}},
          {"data": {"name": "ts"}, "transform": [{"filter": "datum.panel === 'D'"}],
           "mark": {"type": "tick", "orient": "horizontal", "color": "black", "thickness": 1.3, "size": 6},
           "encoding": {"x": {"field": "time", "type": "quantitative", "axis": null}, "y": {"field": "lo", "type": "quantitative", "axis": null}}},
          {"data": {"name": "ts"}, "transform": [{"filter": "datum.panel === 'D'"}],
           "mark": {"type": "tick", "orient": "horizontal", "color": "black", "thickness": 1.3, "size": 6},
           "encoding": {"x": {"field": "time", "type": "quantitative", "axis": null}, "y": {"field": "hi", "type": "quantitative", "axis": null}}},
          {"data": {"name": "dotted"},
           "mark": {"type": "rule", "color": "black", "strokeWidth": 1, "strokeDash": [2, 2]},
           "encoding": {"x": {"field": "t0", "type": "quantitative", "axis": null}, "x2": {"field": "t1"}, "y": {"field": "y", "type": "quantitative", "axis": null}}},
          {"data": {"name": "ts"}, "transform": [{"filter": "datum.panel === 'D'"}],
           "mark": {"type": "line", "color": "black", "strokeWidth": 1.5},
           "encoding": {"x": {"field": "time", "type": "quantitative", "axis": null},
                        "y": {"field": "value", "type": "quantitative", "axis": null},
                        "detail": {"field": "series"}}},
          {"data": {"name": "ts"}, "transform": [{"filter": "datum.panel === 'D'"}],
           "mark": {"type": "point", "filled": true, "size": 55, "stroke": "black", "strokeWidth": 1.3, "opacity": 1},
           "encoding": {"x": {"field": "time", "type": "quantitative", "axis": null},
                        "y": {"field": "value", "type": "quantitative", "axis": null},
                        "shape": {"field": "series", "type": "nominal", "scale": {"domain": ["Non-Stress", "Stress"], "range": ["triangle-up", "square"]}},
                        "fill": {"field": "series", "type": "nominal", "scale": {"domain": ["Non-Stress", "Stress"], "range": ["white", "black"]},
                                 "legend": {"orient": "none", "legendX": 239.5, "legendY": 17, "title": null, "padding": 0, "labelFontSize": 11.5, "symbolSize": 50, "symbolStrokeColor": "black", "symbolStrokeWidth": 1.3, "labelOffset": 11, "rowPadding": 5}}}},
          {"data": {"name": "notes"}, "transform": [{"filter": "datum.panel === 'D' && datum.kind === 'drug'"}],
           "mark": {"type": "text", "fontSize": 13, "color": "#444444", "align": "center", "baseline": "alphabetic"},
           "encoding": {"x": {"field": "time", "type": "quantitative", "axis": null}, "y": {"field": "y", "type": "quantitative", "axis": null}, "text": {"field": "label"}}},
          {"data": {"name": "notes"}, "transform": [{"filter": "datum.panel === 'D' && datum.kind === 'star'"}],
           "mark": {"type": "text", "fontSize": 14, "color": "#444444", "align": "center", "baseline": "alphabetic"},
           "encoding": {"x": {"field": "time", "type": "quantitative", "axis": null}, "y": {"field": "y", "type": "quantitative", "axis": null}, "text": {"field": "label"}}},
          {"data": {"name": "notes"}, "transform": [{"filter": "datum.panel === 'D' && datum.kind === 'letter'"}],
           "mark": {"type": "text", "fontSize": 23, "fontWeight": "bold", "color": "black", "align": "center", "baseline": "alphabetic"},
           "encoding": {"x": {"field": "time", "type": "quantitative", "axis": null}, "y": {"field": "y", "type": "quantitative", "axis": null}, "text": {"field": "label"}}},
          {"data": {"name": "arrows"}, "transform": [{"filter": "datum.panel === 'D'"}],
           "mark": {"type": "rule", "color": "black", "strokeWidth": 2},
           "encoding": {"x": {"field": "time", "type": "quantitative", "axis": null}, "y": {"field": "top", "type": "quantitative", "axis": null}, "y2": {"field": "tip"}}},
          {"data": {"name": "arrows"}, "transform": [{"filter": "datum.panel === 'D'"}],
           "mark": {"type": "point", "shape": "triangle-down", "filled": true, "color": "black", "size": 70, "opacity": 1},
           "encoding": {"x": {"field": "time", "type": "quantitative", "axis": null}, "y": {"field": "tip", "type": "quantitative", "axis": null}}}
         ]},
        {"width": 323, "height": 215,
         "title": {"text": ["Core", "CNQX 1 nM"], "fontSize": 14, "lineHeight": 18, "baseline": "bottom", "offset": -27},
         "resolve": {"axis": {"x": "independent", "y": "independent"}},
         "layer": [
          {"data": {"name": "ts"}, "transform": [{"filter": "datum.panel === 'E'"}],
           "mark": {"type": "rule", "color": "black", "strokeWidth": 1.3},
           "encoding": {"x": {"field": "time", "type": "quantitative", "scale": {"domain": [0, 180], "nice": false},
                              "axis": {"values": [0, 20, 40, 60, 80, 100, 120, 140, 160, 180], "title": "Time", "labelFontSize": 11, "titleFontSize": 12, "tickSize": 4, "labelPadding": 2, "titlePadding": 1, "labelFlush": false, "labelOverlap": false}},
                        "y": {"field": "lo", "type": "quantitative", "scale": {"domain": [0, 250], "nice": false},
                              "axis": {"values": [0, 50, 100, 150, 200, 250], "title": "Photocelll Counts", "labelFontSize": 11, "titleFontSize": 12.5, "tickSize": 4, "labelPadding": 2, "titlePadding": 5, "labelOverlap": false}},
                        "y2": {"field": "hi"}}},
          {"data": {"name": "ts"}, "transform": [{"filter": "datum.panel === 'E'"}],
           "mark": {"type": "tick", "orient": "horizontal", "color": "black", "thickness": 1.3, "size": 6},
           "encoding": {"x": {"field": "time", "type": "quantitative", "axis": null}, "y": {"field": "lo", "type": "quantitative", "axis": null}}},
          {"data": {"name": "ts"}, "transform": [{"filter": "datum.panel === 'E'"}],
           "mark": {"type": "tick", "orient": "horizontal", "color": "black", "thickness": 1.3, "size": 6},
           "encoding": {"x": {"field": "time", "type": "quantitative", "axis": null}, "y": {"field": "hi", "type": "quantitative", "axis": null}}},
          {"data": {"name": "ts"}, "transform": [{"filter": "datum.panel === 'E'"}],
           "mark": {"type": "line", "color": "black", "strokeWidth": 1.5},
           "encoding": {"x": {"field": "time", "type": "quantitative", "axis": null},
                        "y": {"field": "value", "type": "quantitative", "axis": null},
                        "detail": {"field": "series"}}},
          {"data": {"name": "ts"}, "transform": [{"filter": "datum.panel === 'E'"}],
           "mark": {"type": "point", "filled": true, "size": 55, "stroke": "black", "strokeWidth": 1.3, "opacity": 1},
           "encoding": {"x": {"field": "time", "type": "quantitative", "axis": null},
                        "y": {"field": "value", "type": "quantitative", "axis": null},
                        "shape": {"field": "series", "type": "nominal", "scale": {"domain": ["Non-Stress", "Stress"], "range": ["triangle-up", "square"]}},
                        "fill": {"field": "series", "type": "nominal", "scale": {"domain": ["Non-Stress", "Stress"], "range": ["white", "black"]},
                                 "legend": {"orient": "none", "legendX": 241.5, "legendY": 23, "title": null, "padding": 0, "labelFontSize": 11.5, "symbolSize": 50, "symbolStrokeColor": "black", "symbolStrokeWidth": 1.3, "labelOffset": 11, "rowPadding": 4}}}},
          {"data": {"name": "notes"}, "transform": [{"filter": "datum.panel === 'E' && datum.kind === 'drug'"}],
           "mark": {"type": "text", "fontSize": 13, "color": "#444444", "align": "center", "baseline": "alphabetic"},
           "encoding": {"x": {"field": "time", "type": "quantitative", "axis": null}, "y": {"field": "y", "type": "quantitative", "axis": null}, "text": {"field": "label"}}},
          {"data": {"name": "notes"}, "transform": [{"filter": "datum.panel === 'E' && datum.kind === 'letter'"}],
           "mark": {"type": "text", "fontSize": 23, "fontWeight": "bold", "color": "black", "align": "center", "baseline": "alphabetic"},
           "encoding": {"x": {"field": "time", "type": "quantitative", "axis": null}, "y": {"field": "y", "type": "quantitative", "axis": null}, "text": {"field": "label"}}},
          {"data": {"name": "arrows"}, "transform": [{"filter": "datum.panel === 'E'"}],
           "mark": {"type": "rule", "color": "black", "strokeWidth": 2},
           "encoding": {"x": {"field": "time", "type": "quantitative", "axis": null}, "y": {"field": "top", "type": "quantitative", "axis": null}, "y2": {"field": "tip"}}},
          {"data": {"name": "arrows"}, "transform": [{"filter": "datum.panel === 'E'"}],
           "mark": {"type": "point", "shape": "triangle-down", "filled": true, "color": "black", "size": 70, "opacity": 1},
           "encoding": {"x": {"field": "time", "type": "quantitative", "axis": null}, "y": {"field": "tip", "type": "quantitative", "axis": null}}}
         ]}
      ]}
    ]
  }
]
}
